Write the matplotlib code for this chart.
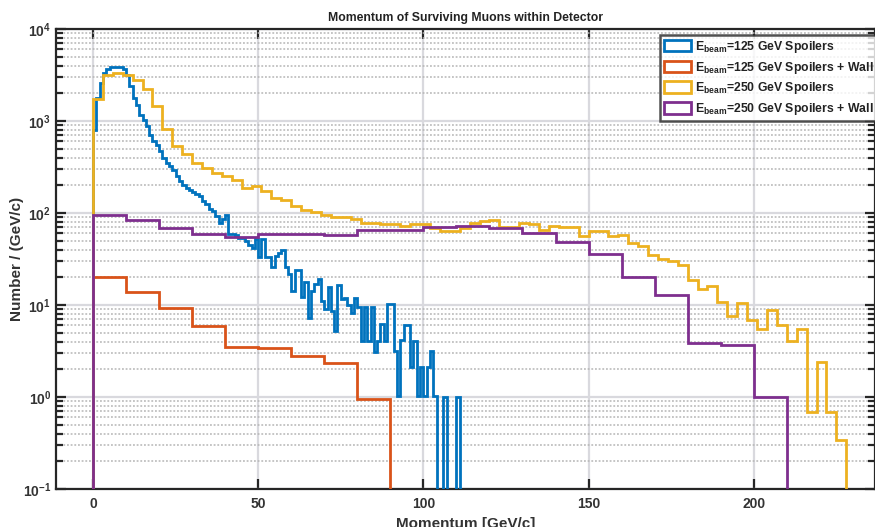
import numpy as np
import matplotlib
matplotlib.use("Agg")
import matplotlib.pyplot as plt
from matplotlib.patches import Patch
from matplotlib.ticker import LogLocator, FixedLocator, LogFormatterSciNotation, NullFormatter

plt.rcParams['font.family'] = ['Liberation Sans', 'DejaVu Sans']
plt.rcParams['font.weight'] = 'bold'
plt.rcParams['mathtext.fontset'] = 'custom'
plt.rcParams['mathtext.rm'] = 'Liberation Sans:bold'
plt.rcParams['mathtext.it'] = 'Liberation Sans:bold'
plt.rcParams['mathtext.bf'] = 'Liberation Sans:bold'
plt.rcParams['mathtext.default'] = 'rm'

# ---------------- data ----------------
title = "Momentum of Surviving Muons within Detector"
xlabel = "Momentum [GeV/c]"
ylabel = "Number / (GeV/c)"
labels = [r"E$_{\rm beam}$=125 GeV Spoilers",
          r"E$_{\rm beam}$=125 GeV Spoilers + Wall",
          r"E$_{\rm beam}$=250 GeV Spoilers",
          r"E$_{\rm beam}$=250 GeV Spoilers + Wall"]
colors = ["#0072BD", "#D95319", "#EDB120", "#7E2F8E"]

# 125 GeV spoilers, 1 GeV bins from 0
blue_width = 1
blue_vals = [790, 1780, 2570, 3330, 3700, 3850, 3900, 3900, 3850, 3700,
             3180, 2390, 1780, 1510, 1170, 1035, 875, 710, 612, 550,
             467, 398, 351, 324, 297, 252, 222, 204, 187, 176,
             168, 162, 152, 135, 124, 110, 105, 92, 78, 87,
             94, 59, 59, 57, 54, 54, 50, 45, 42, 52,
             33, 52, 33, 33, 26, 34, 37, 40, 26, 21.5,
             14.2, 24, 24, 12.3, 18, 7.3, 14.2, 16.8, 19, 11,
             9, 15.8, 8.6, 5.2, 16.4, 11.5, 12, 10, 8.2, 12,
             9.4, 4.1, 9.4, 4.1, 9.4, 3.05, 4.1, 6.2, 4.1, 10.2,
             10.2, 3.2, 1.03, 4.2, 6.1, 6.1, 2.1, 4.1, 1.03, 2.1,
             1.03, 2.1, 3.2, 1.03, 0, 0, 1, 0, 0, 0,
             1]

# 125 GeV spoilers + wall, 10 GeV bins
orange_width = 10
orange_vals = [20, 13.8, 9.2, 5.9, 3.5, 3.4, 2.8, 2.35, 0.94]

# 250 GeV spoilers, 3 GeV bins
yellow_width = 3
yellow_vals = [1720, 3130, 3330, 3150, 2800, 2240, 1440, 810, 532, 440,
               351, 310, 275, 250, 231, 188, 196, 173, 147, 138,
               119, 109, 103, 95, 91, 91, 85, 78.5, 78.5, 76,
               75, 73, 76, 76, 69, 63, 63, 69, 78.5, 81.5,
               83.6, 70, 70, 78.5, 75, 64.6, 72, 70, 70, 56,
               63, 63, 56, 57, 47, 43.8, 35, 32, 30, 27,
               18.6, 15, 15.9, 10.8, 7.5, 10.6, 6.9, 5.5, 8.85, 6.1,
               4.1, 5.5, 0.69, 2.4, 0.69, 0.344]

# 250 GeV spoilers + wall, 10 GeV bins
purple_width = 10
purple_vals = [95, 84, 68, 59, 55, 59, 59, 58, 66, 66,
               70, 73, 68, 61, 48, 36, 20, 12.9, 3.9, 3.7,
               1.0]

series = [(blue_vals, blue_width), (orange_vals, orange_width),
          (yellow_vals, yellow_width), (purple_vals, purple_width)]

xticks = [0, 50, 100, 150, 200]
xlim = (-11.2, 236.7)
ylim = (0.1, 1e4)

# ---------------- figure ----------------
W, H = 875, 527
fig = plt.figure(figsize=(W / 100, H / 100), dpi=100)
ax = fig.add_axes([56 / W, (H - 489) / H, (875 - 56) / W, (489 - 29) / H])

ax.set_yscale('log', nonpositive='clip')
ax.set_xlim(*xlim)
ax.set_ylim(*ylim)

for (vals, width), c in zip(series, colors):
    v = np.asarray(vals, dtype=float)
    edges = np.arange(len(v) + 1) * width
    ax.stairs(v, edges, baseline=0, fill=False, color=c, linewidth=2.0,
              zorder=3)

# grids
ax.set_axisbelow(True)
ax.xaxis.set_major_locator(FixedLocator(xticks))
ax.yaxis.set_major_locator(LogLocator(base=10, numticks=10))
ax.yaxis.set_minor_locator(LogLocator(base=10, subs=np.arange(2, 10), numticks=20))
ax.yaxis.set_major_formatter(LogFormatterSciNotation())
ax.yaxis.set_minor_formatter(NullFormatter())
ax.grid(True, which='major', axis='both', color='#D9D9DE', linewidth=1.6, linestyle='-')
ax.grid(True, which='minor', axis='y', color='#B5B5B5', linewidth=1.1, linestyle=(0, (1.2, 1.2)))

axc = '#262626'
for s in ax.spines.values():
    s.set_color(axc)
    s.set_linewidth(1.6)
ax.tick_params(which='both', direction='in', top=True, right=True, color=axc,
               labelsize=10, labelcolor='#333333', width=1.6)
ax.tick_params(which='major', length=7)
ax.tick_params(which='minor', length=5)
ax.tick_params(axis='x', which='major', pad=6)

ax.set_title(title, fontsize=8.8, fontweight='bold', color='#222222', pad=6)
ax.set_xlabel(xlabel, fontsize=11, fontweight='bold', color='#333333', labelpad=4)
ax.set_ylabel(ylabel, fontsize=11, fontweight='bold', color='#333333')
ax.yaxis.set_label_coords((24 - 56) / (875 - 56), 0.5)

handles = [Patch(facecolor='white', edgecolor=c, linewidth=2.0) for c in colors]
leg = ax.legend(handles, labels, loc='upper left',
                bbox_to_anchor=((660 - 56) / (875 - 56), 1 - (35 - 29) / (489 - 29)),
                fontsize=8.8, frameon=True, fancybox=False, borderpad=0.3,
                handlelength=2.25, handleheight=1.1, handletextpad=0.35,
                labelspacing=0.4, borderaxespad=0)
leg.get_frame().set_edgecolor(axc)
leg.get_frame().set_linewidth(1.8)
for t in leg.get_texts():
    t.set_color('#222222')

fig.savefig("out.png", dpi=100)
